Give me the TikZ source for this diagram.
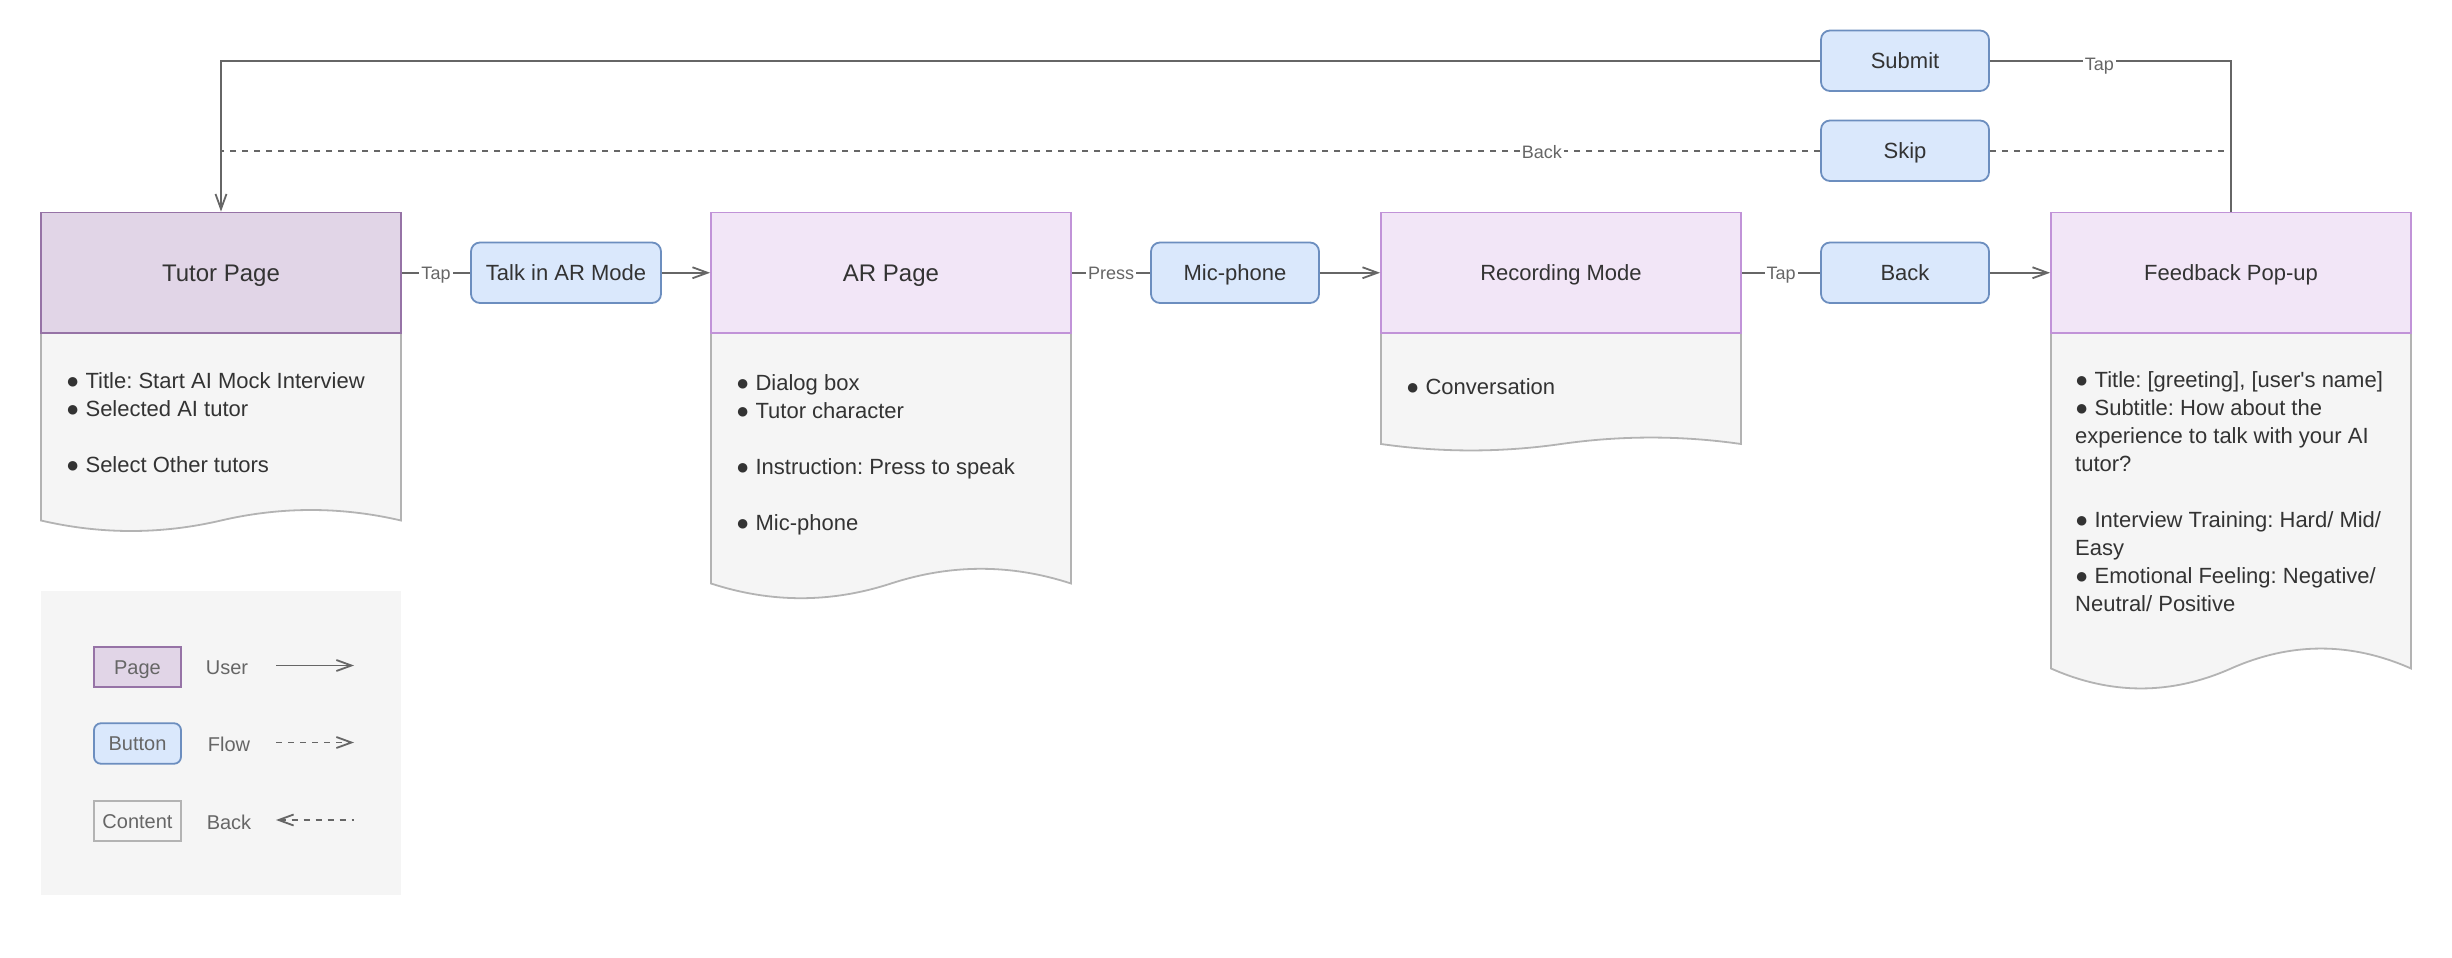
\documentclass[tikz,border=0pt]{standalone}
\usepackage{fontspec}
\setmainfont{Liberation Sans}
\usetikzlibrary{arrows.meta}
\definecolor{lineC}{HTML}{666666}
\definecolor{txtC}{HTML}{333333}
\definecolor{tutorF}{HTML}{E1D5E7}
\definecolor{tutorS}{HTML}{9673A6}
\definecolor{pageF}{HTML}{F2E6F7}
\definecolor{pageS}{HTML}{C193D8}
\definecolor{contF}{HTML}{F5F5F5}
\definecolor{contS}{HTML}{B3B3B3}
\definecolor{btnF}{HTML}{DAE8FC}
\definecolor{btnS}{HTML}{6C8EBF}
\newcommand\ftitle{\fontsize{24}{28}\selectfont}
\newcommand\fsub{\fontsize{22}{26}\selectfont}
\newcommand\fbody{\fontsize{22}{28}\selectfont}
\newcommand\flbl{\fontsize{18}{20}\selectfont}
\newcommand\fleg{\fontsize{20}{24}\selectfont}
\frenchspacing
\begin{document}
\frenchspacing
\begin{tikzpicture}[x=1pt,y=-1pt,
  capc/.style={text height=#1, text depth=0pt},
  pagebox/.style={draw=pageS, fill=pageF, line width=1.8pt, minimum width=360pt, minimum height=120.5pt, inner sep=0pt, text=txtC, font=\fsub, capc=15.75pt},
  bigtitle/.style={font=\ftitle, capc=17.2pt},
  tutorbox/.style={pagebox, draw=tutorS, fill=tutorF},
  btnbox/.style={draw=btnS, fill=btnF, line width=1.8pt, rounded corners=9pt, minimum height=60.5pt, inner sep=0pt, text=txtC, font=\fsub, capc=15.75pt},
  contbox/.style={draw=contS, fill=contF, line width=1.8pt},
  bodytext/.style={anchor=base west, align=left, inner sep=0pt, text=txtC, font=\fbody},
  conn/.style={draw=lineC, line width=1.8pt},
  arr/.style={-{Straight Barb[length=15pt,width=11pt]}},
  dashline/.style={dash pattern=on 6pt off 6pt},
  lbl/.style={fill=white, inner sep=2pt, text=lineC, font=\flbl, capc=12.9pt},
  legfont/.style={text=lineC, font=\fleg, capc=14.3pt},
  legtext/.style={legfont, inner sep=0pt}
]
\useasboundingbox (0,0) rectangle (2452,958);

% content boxes (document shapes)
\draw[contbox] (41,333) -- (401,333) -- (401,520.5) .. controls (341,506.5) and (281,506.5) .. (221,520.5) .. controls (161,534.5) and (101,534.5) .. (41,520.5) -- cycle;
\draw[contbox] (711,333) -- (1071,333) -- (1071,583.5) .. controls (1011,563.9) and (951,563.9) .. (891,583.5) .. controls (831,603.1) and (771,603.1) .. (711,583.5) -- cycle;
\draw[contbox] (1381,333) -- (1741,333) -- (1741,444) .. controls (1681,435.4) and (1621,435.4) .. (1561,444) .. controls (1501,452.6) and (1441,452.6) .. (1381,444) -- cycle;
\draw[contbox] (2051,333) -- (2411,333) -- (2411,668.5) .. controls (2351,641.9) and (2291,641.9) .. (2231,668.5) .. controls (2171,695.1) and (2111,695.1) .. (2051,668.5) -- cycle;

% page headers
\node[tutorbox, bigtitle] (tutor) at (221,272.75) {Tutor Page};
\node[pagebox, bigtitle] (ar) at (891,272.75) {AR Page};
\node[pagebox] (rec) at (1561,272.75) {Recording Mode};
\node[pagebox] (fb) at (2231,272.75) {Feedback Pop-up};

% buttons
\node[btnbox, minimum width=190pt] (talk) at (566,272.75) {Talk in AR Mode};
\node[btnbox, minimum width=168pt] (mic) at (1235,272.75) {Mic-phone};
\node[btnbox, minimum width=168pt] (back) at (1905,272.75) {Back};
\node[btnbox, minimum width=168pt] (submit) at (1905,60.75) {Submit};
\node[btnbox, minimum width=168pt] (skip) at (1905,150.75) {Skip};

% content texts (anchor = baseline of last line)
\node[bodytext] (tutortxt) at (66,472) {● Title: Start AI Mock Interview\\● Selected AI tutor\\[28pt]● Select Other tutors};
\node[bodytext] (artxt) at (736,530) {● Dialog box\\● Tutor character\\[28pt]● Instruction: Press to speak\\[28pt]● Mic-phone};
\node[bodytext] (rectxt) at (1406,394.5) {● Conversation};
\node[bodytext] (fbtxt) at (2075,611) {● Title: [greeting], [user\textquotesingle s name]\\● Subtitle: How about the\\experience to talk with your AI\\tutor?\\[28pt]● Interview Training: Hard/ Mid/\\Easy\\● Emotional Feeling: Negative/\\Neutral/ Positive};

% connectors
\draw[conn] (tutor.east) -- node[lbl]{Tap} (talk.west);
\draw[conn, arr] (talk.east) -- (ar.west);
\draw[conn] (ar.east) -- node[lbl]{Press} (mic.west);
\draw[conn, arr] (mic.east) -- (rec.west);
\draw[conn] (rec.east) -- node[lbl]{Tap} (back.west);
\draw[conn, arr] (back.east) -- (fb.west);
\draw[conn] (fb.north) |- node[lbl, pos=0.773, yshift=-3pt]{Tap} (submit.east);
\draw[conn, arr] (submit.west) -| (tutor.north);
\coordinate (skipL) at (tutor.north |- skip.west);
\coordinate (skipR) at (fb.north |- skip.east);
\draw[conn, dashline] (skip.west) -- node[lbl, pos=0.174, yshift=-1pt]{Back} (skipL);
\draw[conn, dashline] (skip.east) -- (skipR);

% legend
\fill[contF] (41,591) rectangle (401,894.5);
\node[tutorbox, minimum width=87pt, minimum height=40.5pt, legfont] (legpage) at (137.5,667) {Page};
\node[btnbox, rounded corners=7pt, minimum width=87pt, minimum height=40.5pt, legfont] (legbtn) at (137.5,743.5) {Button};
\node[draw=contS, fill=contF, line width=1.8pt, minimum width=87pt, minimum height=40.5pt, inner sep=0pt, legfont] (legcont) at (137.5,821) {Content};
\node[legtext] (leguser) at (227,667) {User};
\node[legtext] (legflow) at (229,744) {Flow};
\node[legtext] (legback) at (229,822) {Back};
\coordinate (ua) at (276,665.5); \coordinate (ub) at (354,665.5);
\coordinate (fa) at (276,742.5); \coordinate (fbb) at (354,742.5);
\coordinate (ba) at (276,820); \coordinate (bb) at (354,820);
\draw[conn, arr] (ua) -- (ub);
\draw[conn, arr, dashline] (fa) -- (fbb);
\draw[conn, {Straight Barb[length=15pt,width=11pt]}-, dashline] (ba) -- (bb);
\end{tikzpicture}
\end{document}
